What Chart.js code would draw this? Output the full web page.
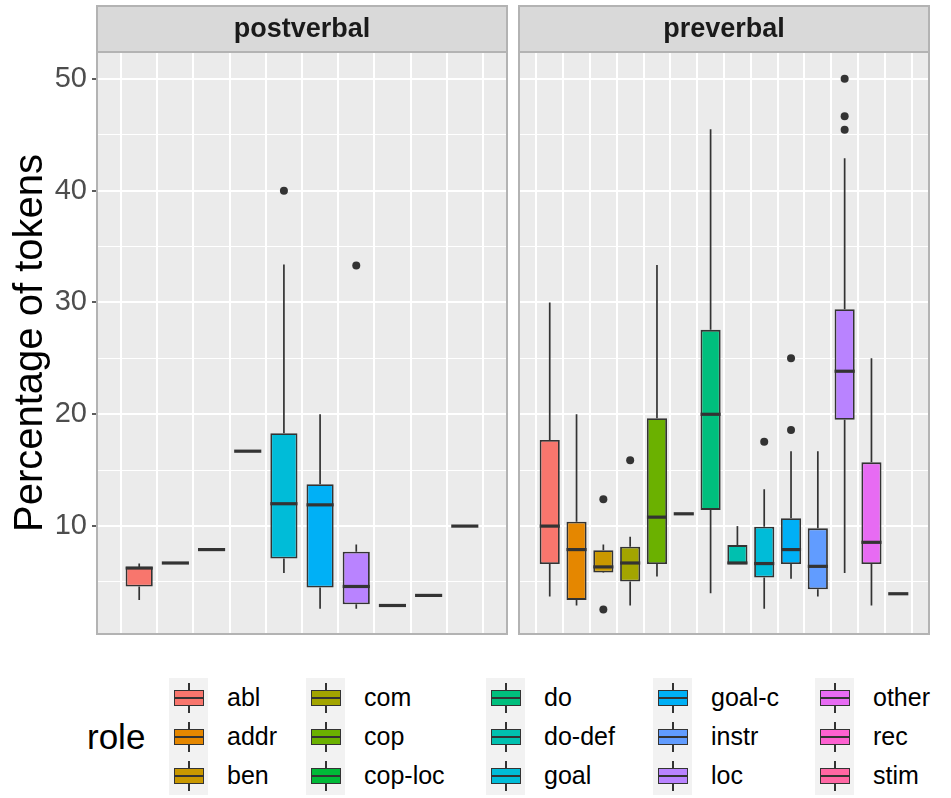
<!DOCTYPE html>
<html>
<head>
<meta charset="utf-8">
<script src="https://cdn.jsdelivr.net/npm/chart.js@4.4.1/dist/chart.umd.min.js"></script>
<style>
  body { margin: 0; background: #fff; width: 951px; height: 798px; position: relative; overflow: hidden;
         font-family: "Liberation Sans", Arial, sans-serif; }
  canvas { position: absolute; top: 0; }
  #post { left: 0; }
  #pre { left: 512px; }
  #roleTitle { position: absolute; left: 87px; top: 719px; font-size: 35px; line-height: 35px; color: #000; }
  .col { position: absolute; top: 678px; }
  .item { height: 39px; display: flex; align-items: center; }
  .key { width: 39px; height: 39px; background: #F2F2F2; position: relative; flex: none; }
  .key .wh { position: absolute; left: 19px; width: 1.5px; top: 5px; height: 30px; background: #333; }
  .key .bx { position: absolute; left: 5px; top: 12px; width: 30px; height: 16px; box-sizing: border-box;
             border: 1.5px solid #333; }
  .key .md { position: absolute; left: 0; right: 0; top: 5.5px; height: 2px; background: #333; }
  .lab { margin-left: 19px; font-size: 25px; color: #000; white-space: nowrap; }
</style>
</head>
<body>
<canvas id="post" width="512" height="650"></canvas>
<canvas id="pre" width="439" height="650"></canvas>
<div id="roleTitle">role</div>
<div id="legend"></div>
<script>
// fill levels and the default ggplot hue palette for 15 levels
const roles = ['abl', 'addr', 'ben', 'com', 'cop', 'cop-loc', 'do', 'do-def', 'goal', 'goal-c', 'instr', 'loc', 'other', 'rec', 'stim'];
const roleColors = ['#F8766D', '#E58700', '#C99800', '#A3A500', '#6BB100', '#00BA38', '#00BF7D', '#00C0AF',
                    '#00BCD8', '#00B0F6', '#619CFF', '#B983FF', '#E76BF3', '#FD61D1', '#FF67A4'];

// postverbal facet: five-number summaries per role
const postRoles = ['abl', 'addr', 'com', 'do', 'goal', 'goal-c', 'loc', 'other', 'rec', 'stim'];
const postMin = [3.4, 6.7, 7.9, 16.7, 5.8, 2.6, 2.6, 2.9, 3.8, 10.0];
const postQ1  = [4.6, 6.7, 7.9, 16.7, 7.1, 4.5, 3.0, 2.9, 3.8, 10.0];
const postMed = [6.25, 6.7, 7.9, 16.7, 12.0, 11.9, 4.6, 2.9, 3.8, 10.0];
const postQ3  = [6.35, 6.7, 7.9, 16.7, 18.3, 13.75, 7.7, 2.9, 3.8, 10.0];
const postMax = [6.65, 6.7, 7.9, 16.7, 33.4, 20.0, 8.35, 2.9, 3.8, 10.0];
const postOut = [[], [], [], [], [40.0], [], [33.3], [], [], []];

// preverbal facet
const preRoles = ['abl', 'addr', 'ben', 'com', 'cop', 'cop-loc', 'do', 'do-def', 'goal', 'goal-c', 'instr', 'loc', 'other', 'rec'];
const preMin = [3.7, 2.9, 5.8, 2.9, 5.5, 11.1, 4.0, 6.6, 2.6, 5.3, 3.7, 5.8, 2.9, 3.95];
const preQ1  = [6.6, 3.4, 5.85, 5.05, 6.6, 11.1, 11.45, 6.6, 5.4, 6.6, 4.35, 19.5, 6.6, 3.95];
const preMed = [10.0, 7.9, 6.35, 6.7, 10.8, 11.1, 20.0, 6.7, 6.65, 7.9, 6.4, 23.85, 8.55, 3.95];
const preQ3  = [17.7, 10.4, 7.85, 8.15, 19.65, 11.1, 27.55, 8.3, 9.95, 10.7, 9.8, 29.4, 15.7, 3.95];
const preMax = [30.0, 20.0, 8.35, 9.05, 33.35, 11.1, 45.5, 10.0, 13.3, 16.7, 16.7, 42.9, 25.0, 3.95];
const preOut = [[], [], [12.4, 2.55], [15.9], [], [], [], [], [17.55], [25.0, 18.6], [], [50.0, 46.65, 45.45], [], []];

const yTicks = [10, 20, 30, 40, 50];

const FONT = '"Liberation Sans", Arial, sans-serif';
const INK = '#333333';

// whiskers, medians, strip and panel frame for one facet
function boxPlugin(s) {
  return {
    id: 'boxParts',
    beforeDraw(chart) {
      const { ctx, chartArea: a } = chart;
      ctx.save();
      ctx.fillStyle = '#EBEBEB';
      ctx.fillRect(a.left, a.top, a.right - a.left, a.bottom - a.top);
      ctx.fillStyle = '#D9D9D9';
      ctx.fillRect(a.left, 6, a.right - a.left, a.top - 6);
      ctx.restore();
    },
    beforeDatasetsDraw(chart) {
      const ctx = chart.ctx, y = chart.scales.y;
      const bars = chart.getDatasetMeta(0).data;
      ctx.save();
      ctx.strokeStyle = INK;
      ctx.lineWidth = 1.7;
      bars.forEach((bar, i) => {
        ctx.beginPath();
        ctx.moveTo(bar.x, y.getPixelForValue(s.max[i]));
        ctx.lineTo(bar.x, y.getPixelForValue(s.q3[i]));
        ctx.moveTo(bar.x, y.getPixelForValue(s.q1[i]));
        ctx.lineTo(bar.x, y.getPixelForValue(s.min[i]));
        ctx.stroke();
      });
      ctx.restore();
    },
    afterDatasetsDraw(chart) {
      const ctx = chart.ctx, y = chart.scales.y;
      const bars = chart.getDatasetMeta(0).data;
      ctx.save();
      ctx.strokeStyle = INK;
      ctx.lineWidth = 3.2;
      bars.forEach((bar, i) => {
        const py = y.getPixelForValue(s.med[i]);
        ctx.beginPath();
        ctx.moveTo(bar.x - bar.width / 2, py);
        ctx.lineTo(bar.x + bar.width / 2, py);
        ctx.stroke();
      });
      ctx.restore();
    },
    afterDraw(chart) {
      const { ctx, chartArea: a } = chart;
      ctx.save();
      ctx.strokeStyle = '#B3B3B3';
      ctx.lineWidth = 2;
      ctx.strokeRect(a.left, 6, a.right - a.left, a.bottom - 6);
      ctx.beginPath();
      ctx.moveTo(a.left, a.top);
      ctx.lineTo(a.right, a.top);
      ctx.stroke();
      ctx.restore();
    }
  };
}

function facet(canvasId, title, cats, s, first) {
  const n = cats.length;
  const fills = cats.map(c => roleColors[roles.indexOf(c)]);
  const outliers = [];
  s.out.forEach((vals, i) => vals.forEach(v => outliers.push({ x: i, y: v })));

  return new Chart(document.getElementById(canvasId), {
    type: 'bar',
    data: {
      datasets: [{
        type: 'bar',
        data: cats.map((c, i) => ({ x: i, y: [s.q1[i], s.q3[i]] })),
        backgroundColor: fills,
        borderColor: INK,
        borderWidth: 1.8,
        borderSkipped: false,
        barPercentage: 0.75,
        categoryPercentage: 1
      }, {
        type: 'scatter',
        data: outliers,
        pointRadius: 4,
        pointBackgroundColor: INK,
        pointBorderWidth: 0
      }]
    },
    options: {
      responsive: false,
      animation: false,
      layout: { padding: first ? { left: 0, right: 5, top: 6, bottom: 16 } : { left: 7, right: 22, top: 6, bottom: 16 } },
      plugins: {
        legend: { display: false },
        tooltip: { enabled: false },
        title: {
          display: true, text: title, fullSize: false, color: '#1A1A1A',
          font: { family: FONT, size: 27, weight: 'bold', lineHeight: 1.1 },
          padding: { top: 9, bottom: 7.3 }
        }
      },
      scales: {
        x: {
          type: 'linear', min: -0.6, max: n - 0.4,
          ticks: { stepSize: 1, includeBounds: false, display: false },
          grid: { color: '#FFFFFF', lineWidth: 2, drawTicks: false },
          border: { display: false },
          afterFit: sc => { sc.height = 0; sc.paddingLeft = 0; sc.paddingRight = 0; }
        },
        y: {
          min: 0.35, max: 52.4,
          ticks: {
            display: first, stepSize: 5, includeBounds: false, autoSkip: false,
            callback: v => yTicks.includes(v) ? String(v) : '',
            color: '#4D4D4D', font: { family: FONT, size: 29 }, padding: 5
          },
          grid: {
            color: '#FFFFFF',
            lineWidth: c => yTicks.includes(c.tick.value) ? 2 : 1.1,
            drawTicks: first, tickLength: 5, tickWidth: 1.6,
            tickColor: c => yTicks.includes(c.tick.value) ? INK : 'rgba(0,0,0,0)'
          },
          border: { display: false },
          title: {
            display: first, text: 'Percentage of tokens', color: '#000000',
            font: { family: FONT, size: 40, lineHeight: 1 }, padding: { top: 11, bottom: 0 }
          },
          afterFit: sc => { sc.width = first ? 97 : 0; sc.paddingTop = 0; sc.paddingBottom = 0; }
        }
      }
    },
    plugins: [boxPlugin(s)]
  });
}

facet('post', 'postverbal', postRoles,
  { min: postMin, q1: postQ1, med: postMed, q3: postQ3, max: postMax, out: postOut }, true);
facet('pre', 'preverbal', preRoles,
  { min: preMin, q1: preQ1, med: preMed, q3: preQ3, max: preMax, out: preOut }, false);

// legend: three rows per column, filled column by column
const colLeft = [169, 306, 486, 653, 815];
const legend = document.getElementById('legend');
for (let c = 0; c < 5; c++) {
  const col = document.createElement('div');
  col.className = 'col';
  col.style.left = colLeft[c] + 'px';
  for (let r = 0; r < 3; r++) {
    const k = c * 3 + r;
    const item = document.createElement('div');
    item.className = 'item';
    item.innerHTML = '<div class="key"><div class="wh"></div><div class="bx" style="background:' + roleColors[k] +
      '"><div class="md"></div></div></div><span class="lab">' + roles[k] + '</span>';
    col.appendChild(item);
  }
  legend.appendChild(col);
}
</script>
</body>
</html>
